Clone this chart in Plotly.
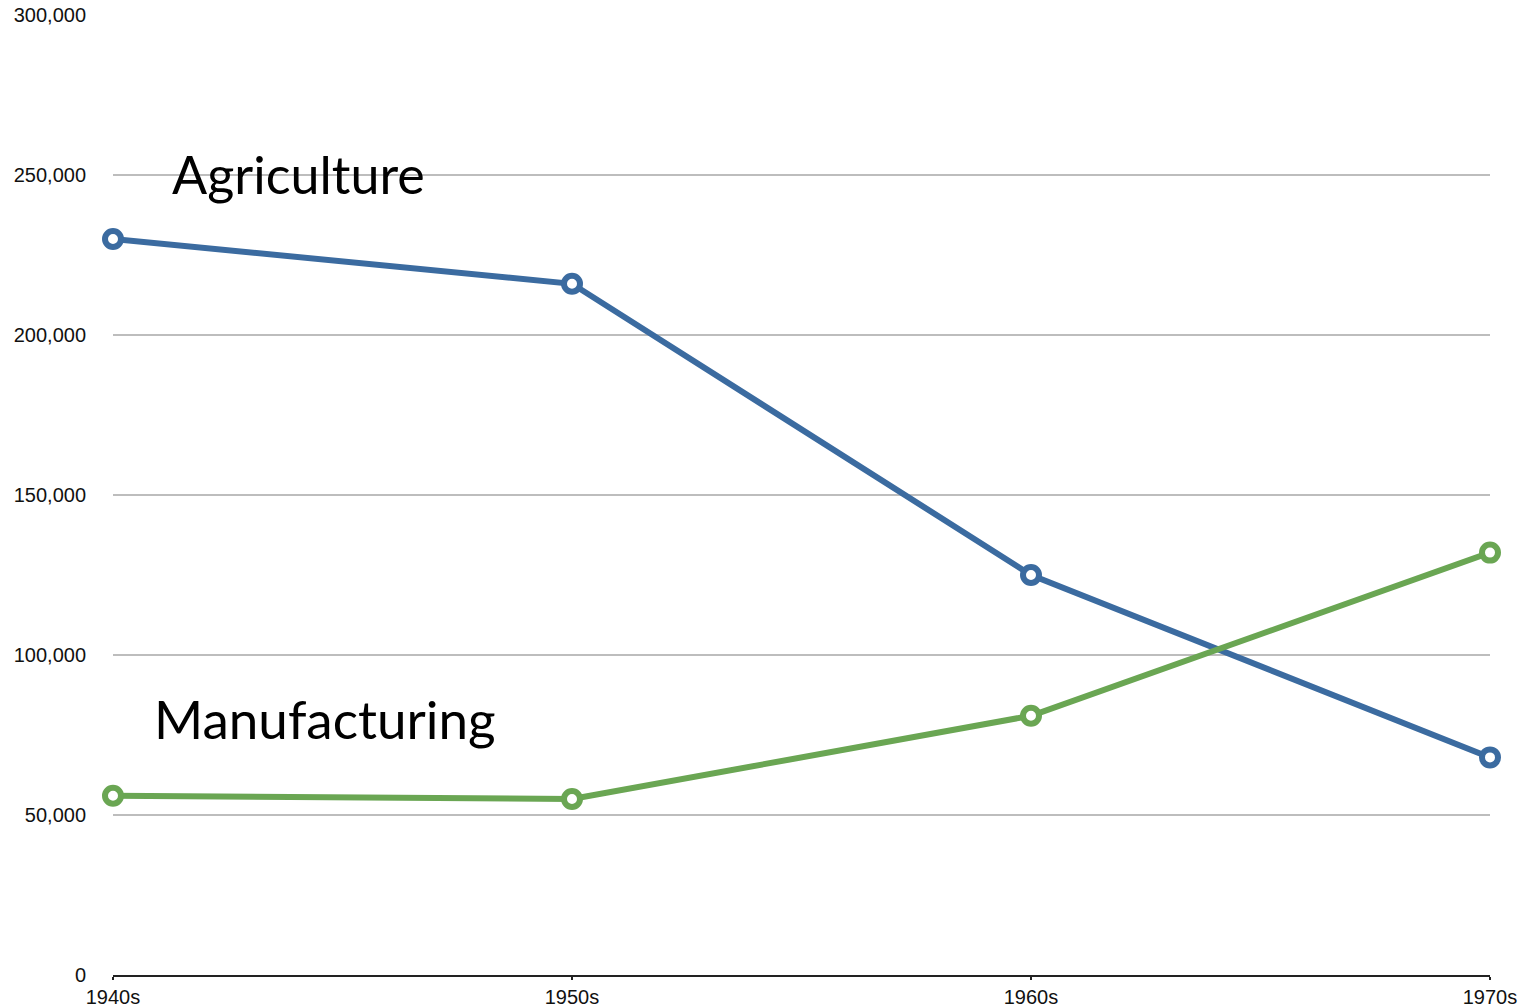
import plotly.graph_objects as go

decades = ["1940s", "1950s", "1960s", "1970s"]
agriculture = [230000, 216000, 125000, 68000]
manufacturing = [56000, 55000, 81000, 132000]
y_ticks = [0, 50000, 100000, 150000, 200000, 250000, 300000]
y_tick_labels = ["0", "50,000", "100,000", "150,000", "200,000", "250,000", "300,000"]

blue = "#3b6ba0"
green = "#6aa653"

fig = go.Figure()
for name, vals, col in [("Agriculture", agriculture, blue), ("Manufacturing", manufacturing, green)]:
    fig.add_trace(go.Scatter(
        x=list(range(len(decades))), y=vals, mode="lines+markers", name=name,
        line=dict(color=col, width=6),
        marker=dict(symbol="circle", size=16, color="white", line=dict(color=col, width=6)),
        cliponaxis=False,
    ))

fig.add_annotation(x=0.125, y=250300, text="Agriculture", showarrow=False, xanchor="left",
                   yanchor="middle", font=dict(family="Lato, sans-serif", size=52, color="black"))
fig.add_annotation(x=0.086, y=80300, text="Manufacturing", showarrow=False, xanchor="left",
                   yanchor="middle", font=dict(family="Lato, sans-serif", size=53, color="black"))

fig.update_layout(
    width=1524, height=1008,
    margin=dict(l=113, r=34, t=15, b=33),
    paper_bgcolor="white", plot_bgcolor="white",
    showlegend=False,
    font=dict(family="Liberation Sans, Arial, sans-serif", size=20, color="#111"),
)
fig.update_xaxes(
    range=[0, 3], tickvals=list(range(len(decades))), ticktext=decades,
    showgrid=False, showline=True, linecolor="#222", linewidth=1.5,
    ticks="outside", ticklen=3, tickcolor="#222", tickwidth=1.5, zeroline=False,
    automargin=False,
)
fig.update_yaxes(
    range=[0, 300000], tickvals=y_ticks, ticktext=y_tick_labels,
    showgrid=True, gridcolor="#bdbdbd", gridwidth=1.5, zeroline=False,
    showline=False, ticks="", ticklabelstandoff=26, automargin=False,
)
fig.write_html("out.html")
